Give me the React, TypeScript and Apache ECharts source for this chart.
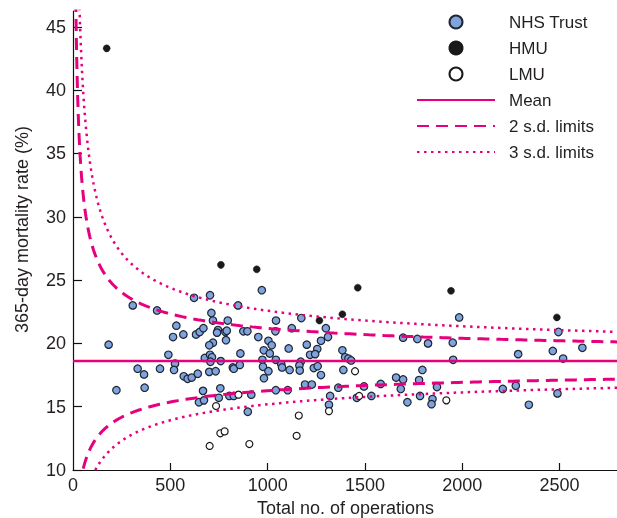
import React, { useEffect, useRef } from "react";
import * as echarts from "echarts";

const MEAN_RATE = 18.6;
const X_TICKS = [0, 500, 1000, 1500, 2000, 2500];
const Y_TICKS = [10, 15, 20, 25, 30, 35, 40, 45];

const NHS_TRUST: [number, number][] = [
  [307, 23.0], [432, 22.6], [622, 23.6], [531, 21.4], [514, 20.5], [567, 20.7], [183, 19.9], [490, 19.1],
  [524, 18.4], [332, 18.0], [365, 17.55], [447, 18.0], [519, 17.9], [569, 17.4], [589, 17.2], [610, 17.3],
  [223, 16.3], [368, 16.5],
  [704, 23.8], [848, 23.0], [711, 22.4], [719, 21.8], [795, 21.8], [632, 20.7], [651, 20.9], [670, 21.2],
  [745, 21.05], [740, 20.85], [783, 20.9], [790, 21.0], [875, 20.95], [896, 20.95], [952, 20.5], [786, 20.25],
  [719, 20.05], [700, 19.85], [860, 19.2], [677, 18.85], [704, 19.1], [714, 18.9], [706, 18.55], [759, 18.6],
  [821, 18.1], [826, 18.0], [857, 18.3], [700, 17.75], [733, 17.8], [641, 17.6], [668, 16.25], [757, 16.45],
  [647, 15.35], [673, 15.5], [749, 15.7], [803, 15.85], [826, 15.85], [916, 15.95], [898, 14.6],
  [970, 24.2], [1043, 21.8], [1173, 22.0], [1040, 20.95], [1124, 21.2], [1299, 21.2], [1310, 20.5], [1004, 20.2],
  [1021, 19.85], [980, 19.45], [1011, 19.2], [1108, 19.6], [1201, 19.9], [1274, 20.2], [1255, 19.55], [1218, 19.1],
  [1244, 19.15], [973, 18.7], [1042, 18.7], [1170, 18.55], [1070, 18.35], [1074, 18.1], [1163, 18.25], [976, 18.15],
  [1004, 17.8], [1113, 17.9], [1165, 17.85], [1237, 18.05], [1257, 18.2], [1274, 17.5], [981, 17.25], [1042, 16.3],
  [1103, 16.3], [1192, 16.75], [1227, 16.75], [1321, 15.85], [1315, 15.15],
  [1696, 20.45], [1769, 20.35], [1824, 20.0], [1384, 19.45], [1398, 18.9], [1415, 18.8], [1429, 18.65], [1389, 17.9],
  [1795, 17.9], [1660, 17.3], [1696, 17.15], [1778, 17.1], [1684, 16.4], [1363, 16.5], [1495, 16.6], [1581, 16.8],
  [1870, 16.55], [1458, 15.7], [1533, 15.85], [1783, 15.85], [1847, 15.6], [1718, 15.35], [1842, 15.2],
  [1984, 22.05], [2494, 20.9], [1951, 20.05], [2617, 19.65], [2465, 19.4], [2287, 19.15], [1953, 18.7], [2518, 18.8],
  [2208, 16.4], [2275, 16.65], [2489, 16.05], [2342, 15.15],
];

const HMU: [number, number][] = [
  [173, 43.3], [760, 26.2], [944, 25.85], [1266, 21.8], [1463, 24.4], [1384, 22.3], [1942, 24.15], [2486, 22.05],
];

const LMU: [number, number][] = [
  [850, 15.95], [735, 15.05], [757, 12.9], [779, 13.05], [702, 11.9], [906, 12.05], [1315, 14.65], [1160, 14.3],
  [1149, 12.7], [1449, 17.8], [1470, 15.85], [1918, 15.5],
];

// funnel control limits on the logit scale around the mean rate
function limitCurve(z: number): [number, number][] {
  const p = MEAN_RATE / 100;
  const base = Math.log(p / (1 - p));
  const out: [number, number][] = [];
  const ns: number[] = [];
  for (let n = 3; n < 100; n += 1) ns.push(n);
  for (let n = 100; n < 500; n += 5) ns.push(n);
  for (let n = 500; n <= 2800; n += 20) ns.push(n);
  for (const n of ns) {
    const l = base + z / Math.sqrt(n * p * (1 - p));
    out.push([n, 100 / (1 + Math.exp(-l))]);
  }
  return out;
}

const PINK = "#e6007e";
const FONT = "Liberation Sans, Arial, Helvetica, sans-serif";
const TEXT = "#231f20";

export default function App() {
  const ref = useRef<HTMLDivElement>(null);
  useEffect(() => {
    if (!ref.current) return;
    const chart = echarts.init(ref.current, undefined, { renderer: "svg" });
    const lineBase = { type: "line" as const, symbol: "none", silent: true, clip: true };
    const hideSym = { opacity: 0 };
    chart.setOption({
      animation: false,
      textStyle: { fontFamily: FONT },
      grid: { left: 73, top: 11, right: -1, bottom: 48, containLabel: false, outerBoundsMode: "none" },
      legend: {
        orient: "vertical",
        left: 416,
        top: 12,
        padding: 0,
        itemWidth: 78,
        itemHeight: 13,
        itemGap: 6,
        textStyle: { fontSize: 17, color: TEXT, fontFamily: FONT, lineHeight: 20, padding: [0, 0, 0, 9] },
        data: [
          { name: "NHS Trust" },
          { name: "HMU" },
          { name: "LMU" },
          { name: "Mean", itemStyle: hideSym },
          { name: "2 s.d. limits", itemStyle: hideSym },
          { name: "3 s.d. limits", itemStyle: hideSym },
        ],
      },
      xAxis: {
        type: "value",
        min: 0,
        max: 2800,
        interval: 500,
        name: "Total no. of operations",
        nameLocation: "middle",
        nameGap: 26,
        nameTextStyle: { fontSize: 18, color: TEXT, fontFamily: FONT },
        axisLine: { show: true, onZero: false, lineStyle: { color: "#111", width: 1.2 } },
        axisTick: { show: true, inside: true, length: 7, lineStyle: { color: "#111", width: 1.2 }, customValues: [500, 1000, 1500, 2000, 2500] },
        axisLabel: { fontSize: 18, color: TEXT, margin: 6, customValues: X_TICKS, formatter: (v: number) => String(v) },
        splitLine: { show: false },
      },
      yAxis: {
        type: "value",
        min: 10,
        max: 46.25,
        interval: 5,
        name: "365-day mortality rate (%)",
        nameLocation: "middle",
        nameGap: 42,
        nameTextStyle: { fontSize: 18, color: TEXT, fontFamily: FONT, padding: [0, 0, 0, 22] },
        axisLine: { show: true, onZero: false, lineStyle: { color: "#111", width: 1.2 } },
        axisTick: { show: true, inside: true, length: 9, lineStyle: { color: "#111", width: 1.2 }, customValues: Y_TICKS },
        axisLabel: { fontSize: 18, color: TEXT, margin: 7, customValues: Y_TICKS, formatter: (v: number) => String(v) },
        splitLine: { show: false },
      },
      series: [
        { ...lineBase, name: "3 s.d. limits", data: limitCurve(3), lineStyle: { color: PINK, width: 2.5, type: [2.5, 4.5] }, itemStyle: { color: PINK } },
        { ...lineBase, name: "3 s.d. limits", data: limitCurve(-3), lineStyle: { color: PINK, width: 2.5, type: [2.5, 4.5] }, itemStyle: { color: PINK } },
        { ...lineBase, name: "2 s.d. limits", data: limitCurve(2), lineStyle: { color: PINK, width: 3, type: [12, 7] }, itemStyle: { color: PINK } },
        { ...lineBase, name: "2 s.d. limits", data: limitCurve(-2), lineStyle: { color: PINK, width: 3, type: [12, 7] }, itemStyle: { color: PINK } },
        { ...lineBase, name: "Mean", data: [[0, MEAN_RATE], [2800, MEAN_RATE]], lineStyle: { color: PINK, width: 2.5, type: "solid" }, itemStyle: { color: PINK } },
        {
          type: "scatter", name: "NHS Trust", data: NHS_TRUST, symbol: "circle", symbolSize: 7.5,
          itemStyle: { color: "#7fa3dc", borderColor: "#1e2633", borderWidth: 1.2, opacity: 1 },
        },
        {
          type: "scatter", name: "HMU", data: HMU, symbol: "circle", symbolSize: 7,
          itemStyle: { color: "#1a1a1a", borderColor: "#1a1a1a", borderWidth: 0.5, opacity: 1 },
        },
        {
          type: "scatter", name: "LMU", data: LMU, symbol: "circle", symbolSize: 7,
          itemStyle: { color: "#ffffff", borderColor: "#1a1a1a", borderWidth: 1.2, opacity: 1 },
        },
      ],
    });
    return () => chart.dispose();
  }, []);
  return <div ref={ref} style={{ position: "fixed", left: 0, top: 0, width: 617, height: 518 }} />;
}
